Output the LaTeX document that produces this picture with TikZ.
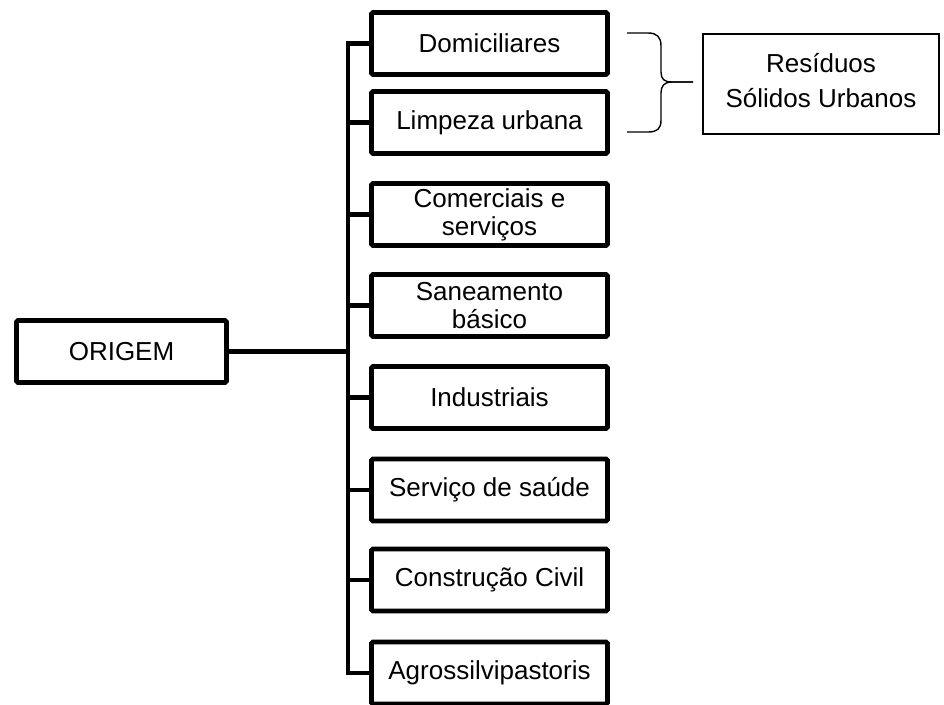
\documentclass[tikz,border=0pt]{standalone}
\usepackage{fontspec}
\setmainfont{Liberation Sans}
\begin{document}
\begin{tikzpicture}[x=1pt,y=-1pt,
  box/.style={draw, line width=4.8pt, rounded corners=1.5pt, minimum width=236pt, minimum height=62pt, inner sep=0pt, align=center, font=\fontsize{26}{28}\selectfont},
  conn/.style={line width=4.8pt},
  thinline/.style={line width=1.4pt}]
\useasboundingbox (0,0) rectangle (944,704);
\node[box, minimum width=210pt] (orig) at (121.5,351.5) {ORIGEM};
\node[box] (b1) at (489.5,43.5) {Domiciliares};
\node[box] (b2) at (489.5,122.5) {Limpeza urbana};
\node[box] (b3) at (489.5,214.5) {Comerciais e\\serviços};
\node[box] (b4) at (489.5,305.5) {Saneamento\\básico};
\node[box] (b5) at (489.5,397.5) {Industriais};
\node[box] (b6) at (489.5,490) {Serviço de saúde};
\node[box] (b7) at (489.5,580) {Construção Civil};
\node[box] (b8) at (489.5,673) {Agrossilvipastoris};
\node[draw, thinline, minimum width=236pt, minimum height=100pt, inner sep=0pt, align=center, text depth=8pt, font=\fontsize{26}{35}\selectfont] (rsu) at (821,84) {Resíduos\\Sólidos Urbanos};
\coordinate (top) at (348,43.5);
\coordinate (bot) at (348,673);
\coordinate (mid) at (348,351.5);
\draw[conn, line cap=rect] (top) -- (bot);
\draw[conn] (orig.east) -- (mid);
\foreach \b in {b1,b2,b3,b4,b5,b6,b7,b8}
  \draw[conn] (\b.west) -- (\b.west -| top);
\coordinate (bt) at (627,33);
\coordinate (bb) at (627,132);
\coordinate (tip) at (693,82);
\draw[thinline] (bt) -- (648,33) .. controls (657,33) and (661,37) .. (661,46) -- (661,72) .. controls (661,79) and (664,82) .. (672,82) -- (tip);
\draw[thinline] (tip) -- (672,82) .. controls (664,82) and (661,86) .. (661,93) -- (661,120) .. controls (661,129) and (657,132) .. (648,132) -- (bb);
\end{tikzpicture}
\end{document}
